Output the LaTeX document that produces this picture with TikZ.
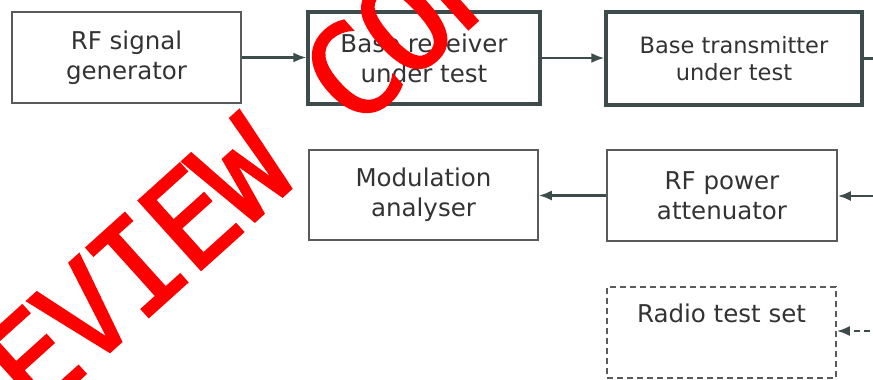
\documentclass[tikz,border=0pt]{standalone}
\usepackage{fontspec}
\setmainfont{DejaVu Sans}
\newfontfamily\wmfont[LetterSpace=-5,FakeBold=1.6]{DejaVu Sans Mono}
\usetikzlibrary{arrows.meta}
\definecolor{linec}{HTML}{3E4B4B}
\definecolor{thinc}{HTML}{5A5A5A}
\definecolor{txtc}{HTML}{333333}
\begin{document}
\begin{tikzpicture}[x=1pt,y=-1pt,
  basebox/.style={rectangle, inner sep=0pt, fill=white, align=center, text=txtc,
    font=\fontsize{24.5}{30}\selectfont},
  thinbox/.style={basebox, draw=thinc, line width=1.6pt},
  thickbox/.style={basebox, draw=linec, line width=3.4pt},
  dashbox/.style={basebox, draw=thinc, line width=1.6pt, dash pattern=on 6pt off 4pt},
  conn/.style={draw=linec, line width=2.2pt},
  arr/.style={conn, -{Latex[length=13pt,width=10pt]}},
  wmark/.style={text=red, font=\wmfont\fontsize{128}{128}\selectfont, inner sep=0pt}
]
\clip (0,0) rectangle (873,380);
\fill[white] (0,0) rectangle (873,380);

\node[thinbox, minimum width=229pt, minimum height=91pt] (gen) at (126.5,57.5) {RF signal\\generator};
\node[thickbox, minimum width=232pt, minimum height=92pt] (rx) at (424,58) {Base receiver\\under test};
\node[thickbox, minimum width=256pt, minimum height=93pt, font=\fontsize{22.5}{27}\selectfont] (tx) at (734,58.5) {Base transmitter\\under test};
\node[thinbox, minimum width=229pt, minimum height=90pt] (mod) at (423.5,195) {Modulation\\analyser};
\node[thinbox, minimum width=230pt, minimum height=91pt] (att) at (722,195.5) {RF power\\attenuator};
\node[dashbox, minimum width=229pt, minimum height=91pt] (rts) at (721.5,332.5) {Radio test set\\\strut};

\coordinate (txout) at (880,58.5);
\coordinate (attin) at (880,196);
\coordinate (rtsin) at (880,331);

\draw[arr] (gen.east) -- (gen.east -| rx.west);
\draw[arr] (rx.east) -- (rx.east -| tx.west);
\draw[conn] (tx.east) -- (tx.east -| txout);
\draw[arr] (attin) -- (attin -| att.east);
\draw[arr] (att.west) -- (att.west -| mod.east);
\draw[arr, dash pattern=on 6pt off 4pt] (rtsin) -- (rtsin -| rts.east);

\node[wmark, rotate=42] (wm) at (218,192) {PREVIEW COPY};
\end{tikzpicture}
\end{document}
